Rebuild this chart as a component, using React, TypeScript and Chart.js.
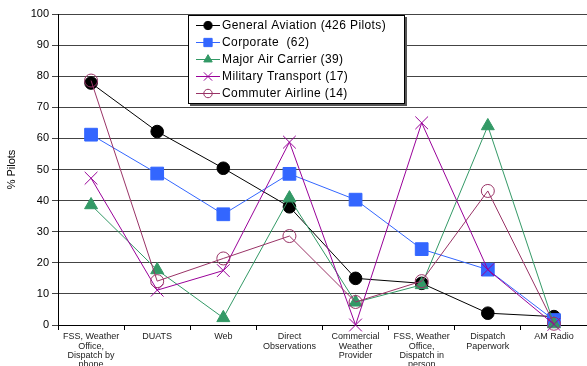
import React, { useEffect, useRef } from 'react';
import { Chart, registerables } from 'chart.js';
import { drawPoint } from 'chart.js/helpers';

Chart.register(...registerables);

const FONT = "Arial, 'Liberation Sans', sans-serif";

const categories: string[][] = [
  ['FSS, Weather', 'Office,', 'Dispatch by', 'phone'],
  ['DUATS'],
  ['Web'],
  ['Direct', 'Observations'],
  ['Commercial', 'Weather', 'Provider'],
  ['FSS, Weather', 'Office,', 'Dispatch in', 'person'],
  ['Dispatch', 'Paperwork'],
  ['AM Radio'],
];

const seriesNames = [
  'General Aviation (426 Pilots)',
  'Corporate  (62)',
  'Major Air Carrier (39)',
  'Military Transport (17)',
  'Commuter Airline (14)',
];

const generalAviation = [77.8, 62.2, 50.4, 38, 15, 13.4, 3.8, 2.7];
const corporate = [61.2, 48.7, 35.6, 48.6, 40.3, 24.4, 17.8, 1.6];
const majorAirCarrier = [38.6, 17.7, 2.3, 40.8, 7.3, 12.9, 64, 0.3];
const militaryTransport = [47.2, 11.2, 17.5, 58.8, 0, 65, 17.8, 0.2];
const commuterAirline = [78.6, 14.1, 21.4, 28.6, 7.4, 14.1, 43.1, 0.4];

const yMin = 0;
const yMax = 100;
const yStep = 10;

const styles = [
  { color: '#000000', fill: '#000000', pointStyle: 'circle', radius: 6.3 },
  { color: '#3366FF', fill: '#3366FF', pointStyle: 'rect', radius: 9 },
  { color: '#339966', fill: '#339966', pointStyle: 'triangle', radius: 7.5 },
  { color: '#990099', fill: '#990099', pointStyle: 'crossRot', radius: 9 },
  { color: '#993366', fill: 'rgba(0,0,0,0)', pointStyle: 'circle', radius: 6.5 },
];

const seriesData = [generalAviation, corporate, majorAirCarrier, militaryTransport, commuterAirline];

const boxLegend = {
  id: 'boxLegend',
  afterDraw(chart: any) {
    const { ctx, chartArea } = chart;
    const x0 = chartArea.left + 130;
    const y0 = chartArea.top + 1;
    const w = 217;
    const h = 89;
    ctx.save();
    ctx.fillStyle = '#555';
    ctx.fillRect(x0 + 2, y0 + 2, w, h);
    ctx.fillStyle = '#ffffff';
    ctx.fillRect(x0, y0, w, h);
    ctx.strokeStyle = '#000';
    ctx.lineWidth = 1;
    ctx.strokeRect(x0 + 0.5, y0 + 0.5, w - 1, h - 1);
    ctx.font = `12px ${FONT}`;
    try { (ctx as any).letterSpacing = '0.4px'; } catch (e) {}
    ctx.textBaseline = 'middle';
    ctx.textAlign = 'left';
    seriesNames.forEach((name, i) => {
      const st = styles[i];
      const y = Math.round(y0 + 10 + i * 17) + 0.5;
      ctx.strokeStyle = st.color;
      ctx.lineWidth = 1;
      ctx.beginPath();
      ctx.moveTo(x0 + 8, y);
      ctx.lineTo(x0 + 32, y);
      ctx.stroke();
      ctx.fillStyle = st.fill;
      ctx.strokeStyle = st.color;
      drawPoint(ctx, { pointStyle: st.pointStyle as any, radius: st.radius * 0.65, rotation: 0, borderWidth: 1 }, x0 + 20, y);
      ctx.fillStyle = '#000';
      ctx.fillText(name, x0 + 34, y);
    });
    ctx.restore();
  },
};

export default function App() {
  const ref = useRef<HTMLCanvasElement>(null);
  useEffect(() => {
    if (!ref.current) return;
    const chart = new Chart(ref.current, {
      type: 'line',
      data: {
        labels: categories as any,
        datasets: seriesData.map((d, i) => ({
          label: seriesNames[i],
          data: d,
          borderColor: styles[i].color,
          backgroundColor: styles[i].fill,
          pointBackgroundColor: styles[i].fill,
          pointBorderColor: styles[i].color,
          pointStyle: styles[i].pointStyle as any,
          pointRadius: styles[i].radius,
          pointBorderWidth: 1,
          borderWidth: 1,
          fill: false,
          tension: 0,
          clip: false as any,
          order: 5 - i,
        })),
      },
      options: {
        animation: false,
        responsive: false,
        layout: { autoPadding: false, padding: { top: 14, right: 0, left: 0, bottom: 0 } },
        plugins: { legend: { display: false }, tooltip: { enabled: false } },
        scales: {
          x: {
            offset: true,
            grid: { offset: true, drawOnChartArea: false, drawTicks: true, tickLength: 5, color: '#000' },
            border: { color: '#000', width: 1 },
            ticks: {
              font: { size: 9, family: FONT, lineHeight: 1.04 },
              color: '#222',
              maxRotation: 0,
              autoSkip: false,
              padding: 2,
            },
            afterFit: (s: any) => { s.height = 41; s.paddingLeft = 0; s.paddingRight = 0; },
          },
          y: {
            min: yMin,
            max: yMax,
            ticks: { stepSize: yStep, font: { size: 11, family: FONT }, color: '#000', padding: 3 },
            grid: { color: '#444', tickLength: 6 },
            border: { color: '#000', width: 1 },
            title: { display: true, text: '% Pilots', font: { size: 11, family: FONT }, color: '#000', padding: { top: 5, bottom: 0 } },
            afterFit: (s: any) => { s.width = 58; },
          },
        },
      },
      plugins: [boxLegend],
    });
    return () => chart.destroy();
  }, []);
  return (
    <div style={{ position: 'fixed', left: 0, top: 0, width: 587, height: 366, background: '#fff' }}>
      <canvas ref={ref} width={587} height={366} />
    </div>
  );
}
